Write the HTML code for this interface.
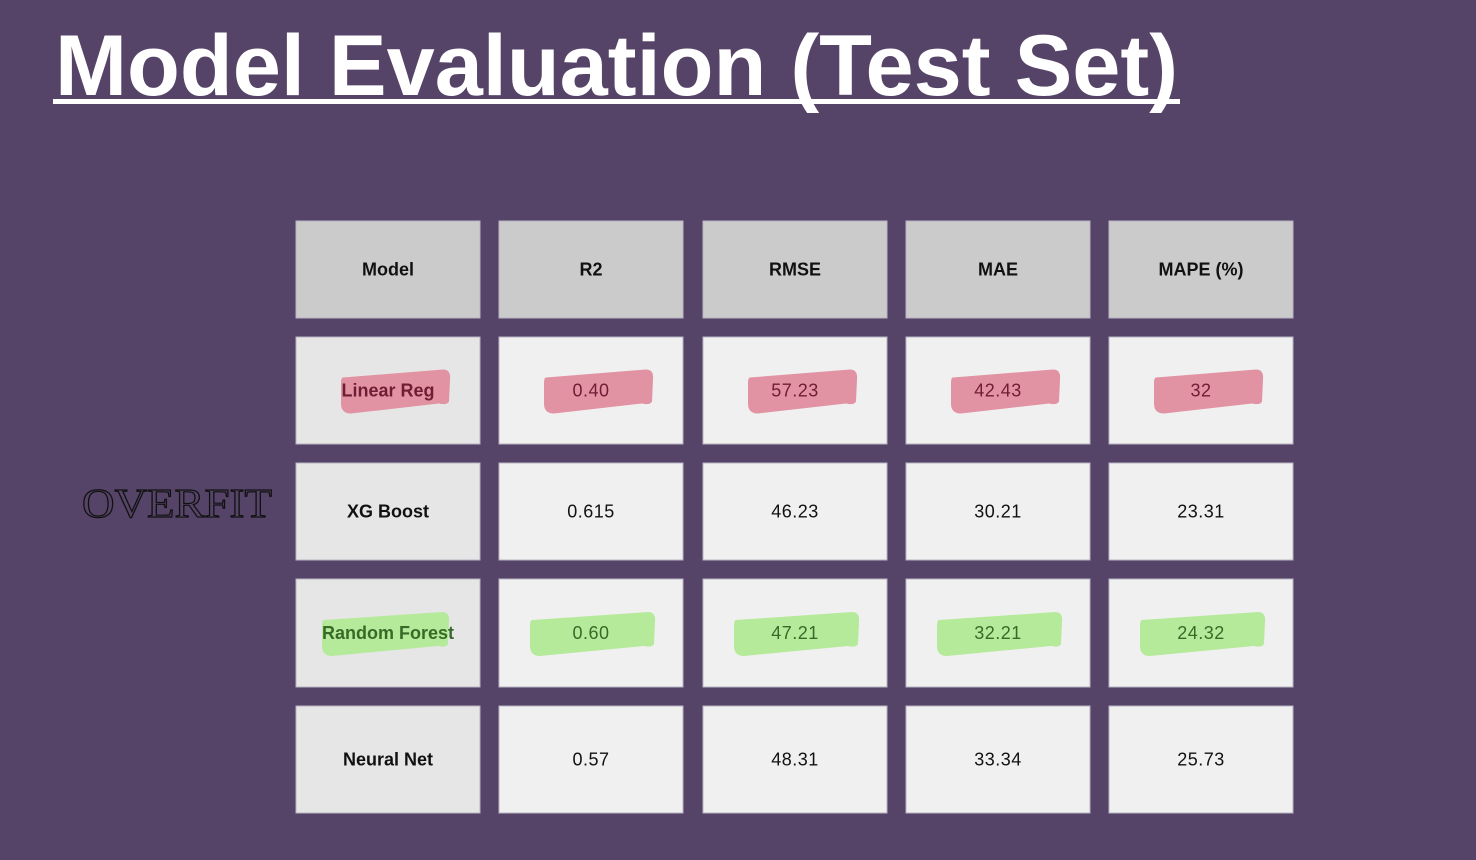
<!DOCTYPE html>
<html><head><meta charset="utf-8"><style>
html,body{margin:0;padding:0;background:#554468;}
svg{display:block}
</style></head><body>
<svg id="s" width="1476" height="860" viewBox="0 0 1476 860" xmlns="http://www.w3.org/2000/svg">
<rect width="1476" height="860" fill="#554468"/>
<text x="55" y="95" font-family="Liberation Sans, sans-serif" font-weight="bold" font-size="86" fill="#fff" textLength="1123" lengthAdjust="spacingAndGlyphs">Model Evaluation (Test Set)</text>
<rect x="53" y="99" width="1127" height="5" fill="#fff"/>
<text x="82" y="517" font-family="Liberation Serif, serif" font-size="41" fill="none" stroke="#111" stroke-width="1.2" textLength="190" lengthAdjust="spacingAndGlyphs">OVERFIT</text>
<g id="tbl"></g>
</svg>
<script>
const headers = ["Model","R2","RMSE","MAE","MAPE (%)"];
const models = ["Linear Reg","XG Boost","Random Forest","Neural Net"];
const r2 = ["0.40","0.615","0.60","0.57"];
const rmse = ["57.23","46.23","47.21","48.31"];
const mae = ["42.43","30.21","32.21","33.34"];
const mape = ["32","23.31","24.32","25.73"];
const rowHighlight = ["pink","none","green","none"];

const NS="http://www.w3.org/2000/svg";
const g=document.getElementById('tbl');
const colX=[296,499,703,906,1109], colW=184;
const rowY=[221,337,463,579,706], rowH=[97,107,97,108,107];
function mk(tag,attrs){const e=document.createElementNS(NS,tag);for(const k in attrs)e.setAttribute(k,attrs[k]);return e;}
const cols=[models,r2,rmse,mae,mape];
const colNames=["model","r2","rmse","mae","mape"];
headers.forEach((h,c)=>{
  const r=mk('rect',{x:colX[c],y:rowY[0],width:colW,height:rowH[0],fill:'#cbcbcb',stroke:'#b9b3c2','stroke-width':1});
  
  
  g.appendChild(r);
  const t=mk('text',{x:colX[c]+colW/2,y:rowY[0]+rowH[0]/2+6,'text-anchor':'middle','font-family':'Liberation Sans, sans-serif','font-weight':'bold','font-size':18,fill:'#111'});
  t.textContent=h;
  
  
  g.appendChild(t);
});
models.forEach((m,i)=>{
  const y=rowY[i+1], h=rowH[i+1], cy=y+h/2-2;
  cols.forEach((arr,c)=>{
    const cx=colX[c]+colW/2;
    const r=mk('rect',{x:colX[c],y:y,width:colW,height:h,fill:c===0?'#e6e6e6':'#f0f0f0',stroke:'#b9b3c2','stroke-width':1});
    
    
    g.appendChild(r);
    const hl=rowHighlight[i];
    let col='#111';
    if(hl!=='none'){
      const w=hl==='pink'?108:(c===0?126:124);
      const off=hl==='pink'?7:(c===0?-3:1);
      const x0=cx-w/2+off, x1=cx+w/2+off, t=cy-19, b=cy+25;
      const d=`M${x0+2},${t+8} L${x1-6},${t} Q${x1+2},${t} ${x1+1},${t+10} L${x1},${b-12} Q${x1-2},${b-8} ${x1-10},${b-10} L${x0+10},${b} Q${x0},${b} ${x0},${b-10} L${x0},${t+14} Q${x0},${t+8} ${x0+2},${t+8} Z`;
      const p=mk('path',{d:d,fill:hl==='pink'?'#e192a3':'#b6ea9b'});
      
      
      g.appendChild(p);
      col=hl==='pink'?'#6e1d33':'#386a27';
    }
    const t=mk('text',{x:cx,y:cy+8,'text-anchor':'middle','font-family':'Liberation Sans, sans-serif','font-weight':c===0?'bold':'normal','font-size':18,fill:col,'letter-spacing':c===0?0:0.5});
    t.textContent=arr[i];
    
    
    g.appendChild(t);
  });
});
</script>
</body></html>
